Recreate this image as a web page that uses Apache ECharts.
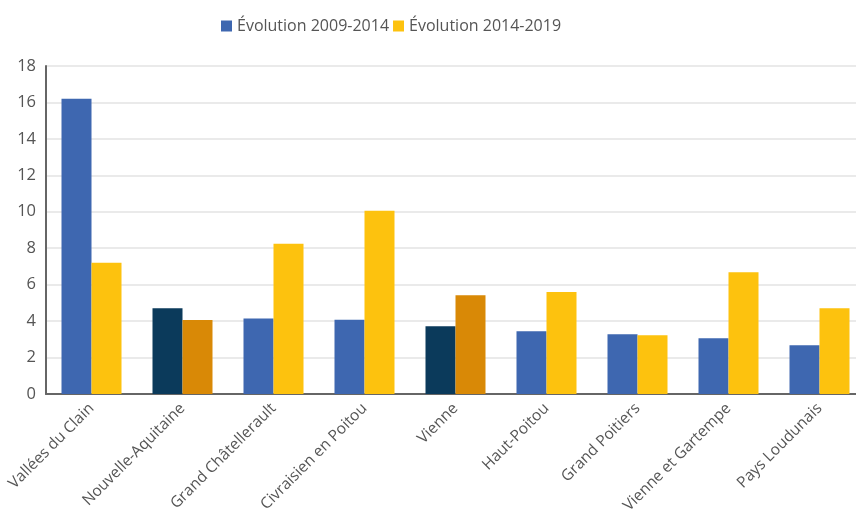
<!DOCTYPE html>
<html>
<head>
<meta charset="utf-8">
<script src="https://cdn.jsdelivr.net/npm/echarts@6/dist/echarts.min.js"></script>
<style>html,body{margin:0;padding:0;background:#fff;}#c{width:856px;height:512px;}</style>
</head>
<body>
<div id="c"></div>
<script>
var categories = ["Vallées du Clain","Nouvelle-Aquitaine","Grand Châtellerault","Civraisien en Poitou","Vienne","Haut-Poitou","Grand Poitiers","Vienne et Gartempe","Pays Loudunais"];
var evol0914 = [16.2, 4.7, 4.15, 4.07, 3.72, 3.45, 3.28, 3.06, 2.67];
var evol1419 = [7.2, 4.06, 8.25, 10.05, 5.42, 5.6, 3.22, 6.68, 4.7];
var seriesNames = ["Évolution 2009-2014","Évolution 2014-2019"];
var highlighted = ["Nouvelle-Aquitaine","Vienne"];
var yTicks = [0,2,4,6,8,10,12,14,16,18];

var baseColors = ["#3e67b0","#fdc20e"];
var hiColors = ["#0b3a5b","#d98906"];

function build(vals, si){
  return vals.map(function(v,i){
    var o = {value:v};
    if (highlighted.indexOf(categories[i]) >= 0) o.itemStyle = {color: hiColors[si]};
    return o;
  });
}

var chart = echarts.init(document.getElementById('c'), null, {renderer:'canvas'});
chart.setOption({
  backgroundColor:'#ffffff',
  animation:false,
  textStyle:{fontFamily:'Open Sans'},
  legend:{
    left:216, top:13, itemWidth:11, itemHeight:11, itemGap:4,
    icon:'rect',
    textStyle:{fontSize:16, color:'#555', fontFamily:'Open Sans'},
    data: seriesNames
  },
  grid:{left:46, top:66, width:819, height:328, containLabel:false, outerBoundsMode:'none'},
  xAxis:{
    type:'category', data:categories,
    axisLine:{lineStyle:{color:'#666', width:2}},
    axisTick:{show:false},
    axisLabel:{rotate:45, fontSize:15.5, color:'#555', margin:12, interval:0, fontFamily:'Open Sans'}
  },
  yAxis:{
    type:'value', min:yTicks[0], max:yTicks[yTicks.length-1], interval:2,
    axisLine:{show:true, lineStyle:{color:'#666', width:2}},
    axisTick:{show:false},
    axisLabel:{fontSize:16.5, color:'#555', margin:10, fontFamily:'Open Sans'},
    splitLine:{lineStyle:{color:'#e3e3e3', width:1.5}}
  },
  series:[
    {name:seriesNames[0], type:'bar', data:build(evol0914,0), itemStyle:{color:baseColors[0]}, barWidth:30, barGap:'0%'},
    {name:seriesNames[1], type:'bar', data:build(evol1419,1), itemStyle:{color:baseColors[1]}, barWidth:30, barGap:'0%'}
  ]
});
</script>
</body>
</html>
